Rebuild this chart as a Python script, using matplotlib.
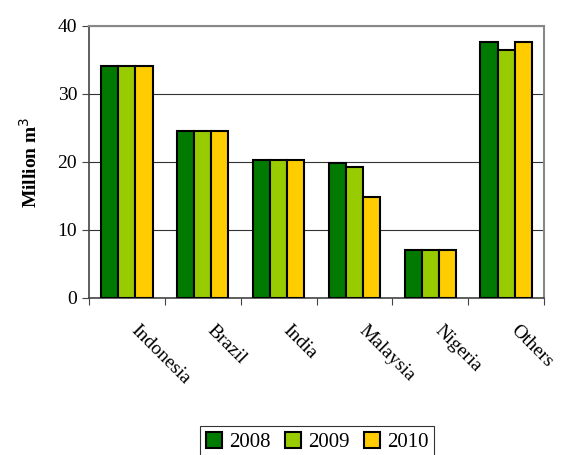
import matplotlib.pyplot as plt
import matplotlib.transforms as mtransforms
import numpy as np

plt.rcParams['font.family'] = ['Liberation Serif', 'DejaVu Serif']

countries = ['Indonesia', 'Brazil', 'India', 'Malaysia', 'Nigeria', 'Others']
years = ['2008', '2009', '2010']
v2008 = [34.1, 24.5, 20.3, 19.8, 7.1, 37.7]
v2009 = [34.1, 24.5, 20.3, 19.3, 7.1, 36.4]
v2010 = [34.1, 24.5, 20.3, 14.8, 7.1, 37.6]
colors = ['#007A00', '#99CC00', '#FFCC00']

fig = plt.figure(figsize=(5.62, 4.55), dpi=100)
ax = fig.add_axes([89 / 562, 1 - 298 / 455, 455 / 562, 272 / 455])

x = np.arange(len(countries))
w = 0.225
for i, (vals, yr) in enumerate(zip([v2008, v2009, v2010], years)):
    ax.bar(x + (i - 1) * w, vals, width=w, color=colors[i], edgecolor='black',
           linewidth=1.5, label=yr, zorder=3)

ax.set_xlim(-0.5, len(countries) - 0.5)
ax.set_ylim(0, 40)
ax.set_yticks([0, 10, 20, 30, 40])
ax.yaxis.grid(True, color='#333333', linewidth=0.8, zorder=0)

# ticks at category boundaries, labels below each category
ax.set_xticks(np.arange(-0.5, len(countries)))
ax.set_xticklabels([])
ax.set_xticks(x, minor=True)
ax.set_xticklabels(countries, minor=True, rotation=-45, ha='left',
                   rotation_mode='anchor', fontsize=14)
ax.tick_params(axis='x', which='minor', length=0, pad=17)
ax.tick_params(axis='x', which='major', length=5, direction='out', color='#444444')
ax.tick_params(axis='y', length=5, direction='out', color='#444444', labelsize=14)
shift = mtransforms.ScaledTranslation(0.13, 0, fig.dpi_scale_trans)
for lbl in ax.get_xticklabels(minor=True):
    lbl.set_transform(lbl.get_transform() + shift)

ax.set_ylabel('Million m$^3$', fontsize=14, fontweight='bold', labelpad=12)

for side in ['top', 'right']:
    ax.spines[side].set_color('#888888')
    ax.spines[side].set_linewidth(1.5)
for side in ['left', 'bottom']:
    ax.spines[side].set_color('#444444')
    ax.spines[side].set_linewidth(1.2)

leg = fig.legend(loc='lower center', bbox_to_anchor=(317 / 562, -0.03), ncol=3,
                 frameon=True, fancybox=False, edgecolor='black', fontsize=15,
                 handlelength=0.8, handleheight=0.8, handletextpad=0.3,
                 columnspacing=0.7, borderpad=0.3)
leg.get_frame().set_linewidth(0.8)

fig.savefig('out.png', dpi=100)
